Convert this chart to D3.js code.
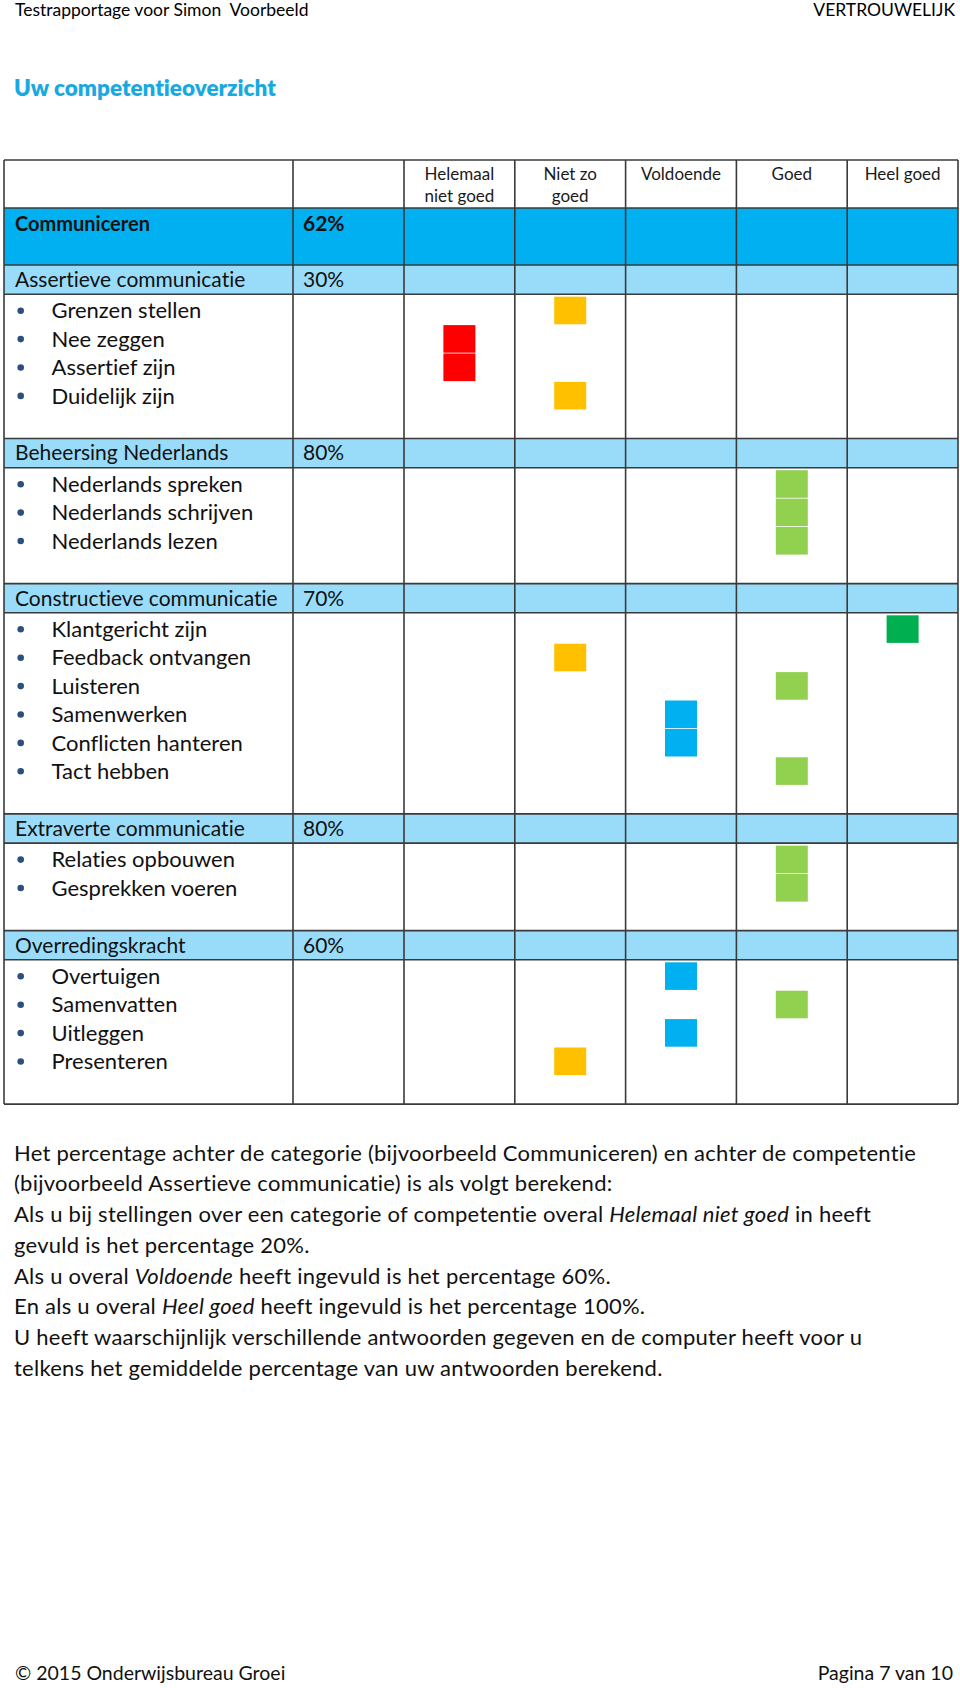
<!DOCTYPE html>
<html>
<head>
<meta charset="utf-8">
<script src="https://cdn.jsdelivr.net/npm/d3@7"></script>
<style>
  html, body { margin: 0; padding: 0; background: #fff; }
  svg { display: block; }
  text { font-family: Lato, "Open Sans", sans-serif; font-variant-ligatures: none; font-feature-settings: "liga" 0, "clig" 0; }
</style>
</head>
<body>
<svg id="chart" width="960" height="1688"></svg>
<script>
// ---------- DATA ----------
const pageHeaderLeft = "Testrapportage voor Simon  Voorbeeld";
const pageHeaderRight = "VERTROUWELIJK";
const pageTitle = "Uw competentieoverzicht";

const ratingLevels = ["Helemaal niet goed", "Niet zo goed", "Voldoende", "Goed", "Heel goed"];
const ratingLabelLines = [["Helemaal", "niet goed"], ["Niet zo", "goed"], ["Voldoende"], ["Goed"], ["Heel goed"]];
const ratingColors = ["#ff0000", "#ffc000", "#00b0f0", "#92d050", "#00b050"];

const categoryName = "Communiceren";
const categoryPercent = "62%";

const competencies = [
  "Assertieve communicatie",
  "Beheersing Nederlands",
  "Constructieve communicatie",
  "Extraverte communicatie",
  "Overredingskracht"
];
const competencyPercents = ["30%", "80%", "70%", "80%", "60%"];

const competencyItems = [
  ["Grenzen stellen", "Nee zeggen", "Assertief zijn", "Duidelijk zijn"],
  ["Nederlands spreken", "Nederlands schrijven", "Nederlands lezen"],
  ["Klantgericht zijn", "Feedback ontvangen", "Luisteren", "Samenwerken", "Conflicten hanteren", "Tact hebben"],
  ["Relaties opbouwen", "Gesprekken voeren"],
  ["Overtuigen", "Samenvatten", "Uitleggen", "Presenteren"]
];

// rating per item (1 = Helemaal niet goed ... 5 = Heel goed)
const itemRatings = [
  [2, 1, 1, 2],
  [4, 4, 4],
  [5, 2, 4, 3, 3, 4],
  [4, 4],
  [3, 4, 3, 2]
];

const explanationLines = [
  [["Het percentage achter de categorie (bijvoorbeeld Communiceren) en achter de competentie", false]],
  [["(bijvoorbeeld Assertieve communicatie) is als volgt berekend:", false]],
  [["Als u bij stellingen over een categorie of competentie overal ", false], ["Helemaal niet goed", true], [" in heeft", false]],
  [["gevuld is het percentage 20%.", false]],
  [["Als u overal ", false], ["Voldoende", true], [" heeft ingevuld is het percentage 60%.", false]],
  [["En als u overal ", false], ["Heel goed", true], [" heeft ingevuld is het percentage 100%.", false]],
  [["U heeft waarschijnlijk verschillende antwoorden gegeven en de computer heeft voor u", false]],
  [["telkens het gemiddelde percentage van uw antwoorden berekend.", false]]
];

const footerLeft = "© 2015 Onderwijsbureau Groei";
const footerRight = "Pagina 7 van 10";

// ---------- LAYOUT ----------
const svg = d3.select("#chart");

const tableLeft = 4, tableRight = 958;
const col1 = 293, col2 = 404;
const tableTop = 160;
const headerH = 48, categoryH = 57, compH = 29.2, itemH = 28.4, groupExtra = 30.7;
const squareW = 32, squareH = 27.6;
const gridColor = "#3a3a3a";
const textColor = "#111";

// page header
svg.append("text").attr("x", 15).attr("y", 16).attr("font-size", 17.5)
  .style("white-space", "pre").attr("fill", "#000").text(pageHeaderLeft);
svg.append("text").attr("x", 955).attr("y", 16).attr("font-size", 17.5)
  .attr("text-anchor", "end").attr("fill", "#000").text(pageHeaderRight);

// title
svg.append("text").attr("x", 14).attr("y", 96).attr("font-size", 22.5)
  .attr("font-weight", 800).attr("fill", "#19a9e1").text(pageTitle);

// scale for rating columns
const x = d3.scaleBand().domain(ratingLevels).range([col2, tableRight]).paddingInner(0).paddingOuter(0);

// compute vertical groups
let yCursor = tableTop + headerH + categoryH;
const groups = competencies.map((name, i) => {
  const g = { name, pct: competencyPercents[i], items: competencyItems[i], ratings: itemRatings[i] };
  g.compTop = yCursor;
  g.itemsTop = yCursor + compH;
  g.bottom = g.itemsTop + g.items.length * itemH + groupExtra;
  yCursor = g.bottom;
  return g;
});
const tableBottom = yCursor;

const table = svg.append("g");

// category row (dark blue)
table.append("rect").attr("x", tableLeft).attr("y", tableTop + headerH)
  .attr("width", tableRight - tableLeft).attr("height", categoryH).attr("fill", "#00b0f0");

// competency rows (light blue)
table.selectAll("rect.comp").data(groups).join("rect").attr("class", "comp")
  .attr("x", tableLeft).attr("y", d => d.compTop)
  .attr("width", tableRight - tableLeft).attr("height", compH).attr("fill", "#99dcfa");

// squares
groups.forEach(g => {
  table.selectAll(null).data(g.ratings.map((r, i) => ({ r, i }))).join("rect")
    .attr("x", d => x(ratingLevels[d.r - 1]) + x.bandwidth() / 2 - squareW / 2)
    .attr("y", d => g.itemsTop + 2.5 + d.i * itemH)
    .attr("width", squareW).attr("height", squareH)
    .attr("fill", d => ratingColors[d.r - 1]);
});

// grid lines
const hLines = [tableTop, tableTop + headerH, tableTop + headerH + categoryH];
groups.forEach(g => { hLines.push(g.itemsTop); hLines.push(g.bottom); });
table.selectAll("line.h").data(hLines).join("line").attr("class", "h")
  .attr("x1", tableLeft).attr("x2", tableRight).attr("y1", d => d).attr("y2", d => d)
  .attr("stroke", gridColor).attr("stroke-width", 1.6);
const vLines = [tableLeft, col1, ...ratingLevels.map(l => x(l)), tableRight];
table.selectAll("line.v").data(vLines).join("line").attr("class", "v")
  .attr("x1", d => d).attr("x2", d => d).attr("y1", tableTop).attr("y2", tableBottom)
  .attr("stroke", gridColor).attr("stroke-width", 1.6);

// header labels
ratingLevels.forEach((lvl, i) => {
  ratingLabelLines[i].forEach((ln, j) => {
    table.append("text").attr("x", x(lvl) + x.bandwidth() / 2)
      .attr("y", tableTop + 14 + j * 21.7).attr("dy", "0.35em")
      .attr("text-anchor", "middle").attr("font-size", 17).attr("fill", "#1a1a1a").text(ln);
  });
});

// category label
table.append("text").attr("x", 15).attr("y", tableTop + headerH + 16).attr("dy", "0.35em")
  .attr("font-size", 20).attr("font-weight", 700).attr("fill", textColor).text(categoryName);
table.append("text").attr("x", 303).attr("y", tableTop + headerH + 16).attr("dy", "0.35em")
  .attr("font-size", 21).attr("font-weight", 700).attr("fill", textColor).text(categoryPercent);

// competency labels + items
groups.forEach(g => {
  table.append("text").attr("x", 15).attr("y", g.compTop + compH / 2).attr("dy", "0.35em")
    .attr("font-size", 21).attr("fill", textColor).text(g.name);
  table.append("text").attr("x", 303).attr("y", g.compTop + compH / 2).attr("dy", "0.35em")
    .attr("font-size", 21).attr("fill", textColor).text(g.pct);
  g.items.forEach((it, i) => {
    const cy = g.itemsTop + 16.5 + i * itemH;
    table.append("circle").attr("cx", 20.7).attr("cy", cy).attr("r", 3.3).attr("fill", "#2d4f80");
    table.append("text").attr("x", 51.5).attr("y", cy).attr("dy", "0.35em")
      .attr("font-size", 22).attr("fill", textColor).text(it);
  });
});

// explanation paragraph
explanationLines.forEach((parts, i) => {
  const t = svg.append("text").attr("x", 14).attr("y", 1153 + i * 30.7).attr("dy", "0.35em")
    .attr("font-size", 22).attr("letter-spacing", 0.25).attr("fill", textColor).style("white-space", "pre");
  parts.forEach(([s, it]) => {
    t.append("tspan").attr("font-style", it ? "italic" : "normal").text(s);
  });
});

// footer
svg.append("text").attr("x", 15).attr("y", 1673).attr("dy", "0.35em").attr("font-size", 19.5)
  .attr("fill", textColor).text(footerLeft);
svg.append("text").attr("x", 953).attr("y", 1673).attr("dy", "0.35em").attr("font-size", 19.5)
  .attr("text-anchor", "end").attr("fill", textColor).text(footerRight);
</script>
</body>
</html>
